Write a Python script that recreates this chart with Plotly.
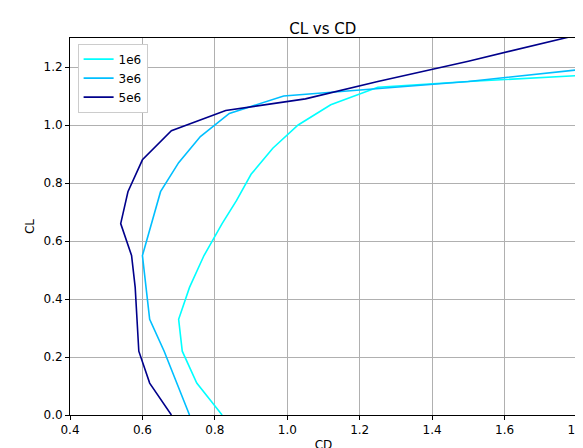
import plotly.graph_objects as go

cd_1e6 = [0.82,0.75,0.71,0.70,0.73,0.77,0.82,0.86,0.90,0.96,1.03,1.12,1.25,1.5,1.8]
cl_1e6 = [0.0,0.11,0.22,0.33,0.44,0.55,0.66,0.74,0.83,0.92,1.0,1.07,1.13,1.15,1.17]
cd_3e6 = [0.73,0.66,0.62,0.60,0.65,0.70,0.76,0.84,0.99,1.2,1.5,1.8]
cl_3e6 = [0.0,0.22,0.33,0.55,0.77,0.87,0.96,1.04,1.10,1.12,1.15,1.19]
cd_5e6 = [0.68,0.62,0.59,0.58,0.57,0.54,0.56,0.60,0.68,0.83,1.05,1.25,1.5,1.8]
cl_5e6 = [0.0,0.11,0.22,0.44,0.55,0.66,0.77,0.88,0.98,1.05,1.09,1.15,1.22,1.31]

fig = go.Figure()
for name, x, y, c in [("1e6", cd_1e6, cl_1e6, "#00FFFF"), ("3e6", cd_3e6, cl_3e6, "#00BFFF"), ("5e6", cd_5e6, cl_5e6, "#00008B")]:
    fig.add_trace(go.Scatter(x=x, y=y, mode="lines", name=name, line=dict(color=c, width=1.6)))

ax = dict(showgrid=True, gridcolor="#b0b0b0", showline=True, linecolor="black", mirror=True,
          ticks="outside", ticklen=4, tickcolor="black", zeroline=False, automargin=False)
fig.update_layout(
    width=583, height=448, paper_bgcolor="white", plot_bgcolor="white",
    margin=dict(l=62, r=14, t=30, b=41),
    font=dict(family="DejaVu Sans", size=12, color="black"),
    title=dict(text="CL vs CD", x=0.54, xanchor="center", y=0.965, font=dict(size=15)),
    xaxis=dict(ax, title=dict(text="CD", standoff=4, font=dict(size=12)), range=[0.4, 1.8], dtick=0.2, tickformat=".1f"),
    yaxis=dict(ax, title=dict(text="CL", standoff=6, font=dict(size=12)), range=[0, 1.3], dtick=0.2, tickformat=".1f"),
    legend=dict(x=0.015, y=0.985, xanchor="left", yanchor="top", bgcolor="white",
                bordercolor="#cccccc", borderwidth=1, font=dict(size=12)),
)
fig.write_html("out.html")
